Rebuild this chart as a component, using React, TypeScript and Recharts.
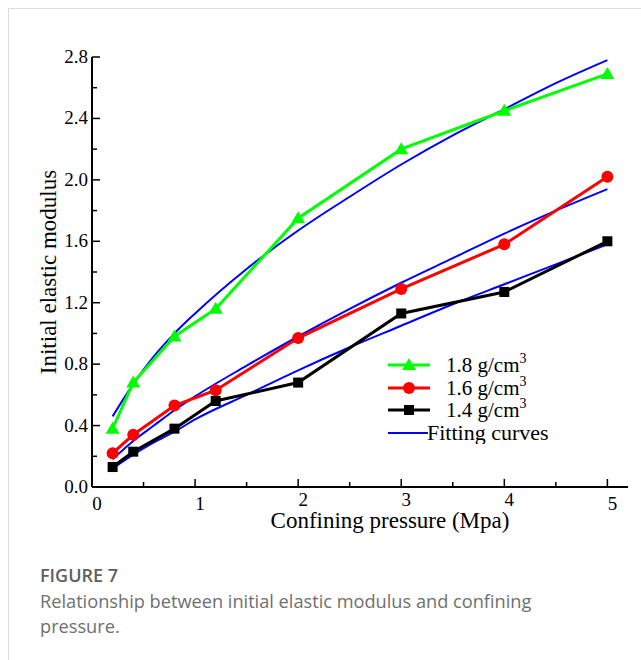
import { LineChart, Line, XAxis, YAxis, Legend } from 'recharts';

// measured points (confining pressure in MPa)
const pressure = [0.2, 0.4, 0.8, 1.2, 2, 3, 4, 5];
const modulus18 = [0.38, 0.68, 0.98, 1.16, 1.75, 2.2, 2.45, 2.69];
const modulus16 = [0.22, 0.34, 0.53, 0.63, 0.97, 1.29, 1.58, 2.02];
const modulus14 = [0.13, 0.23, 0.38, 0.56, 0.68, 1.13, 1.27, 1.6];

// fitting curves
const fitPressure = [0.2, 0.4, 0.6, 0.8, 1, 1.5, 2, 2.5, 3, 3.5, 4, 4.5, 5];
const fit18 = [0.46, 0.67, 0.85, 1.0, 1.13, 1.42, 1.67, 1.89, 2.1, 2.29, 2.46, 2.63, 2.78];
const fit16 = [0.18, 0.3, 0.4, 0.5, 0.59, 0.79, 0.98, 1.16, 1.33, 1.49, 1.65, 1.8, 1.94];
const fit14 = [0.12, 0.21, 0.29, 0.36, 0.44, 0.6, 0.76, 0.91, 1.05, 1.19, 1.32, 1.45, 1.58];

const xTicks = [0, 0.5, 1, 1.5, 2, 2.5, 3, 3.5, 4, 4.5, 5];
const yTicks = [0, 0.2, 0.4, 0.6, 0.8, 1.0, 1.2, 1.4, 1.6, 1.8, 2.0, 2.2, 2.4, 2.6, 2.8];

const legendLabels = ['1.8', '1.6', '1.4'];

const toPoints = (xs: number[], ys: number[]) => xs.map((x, i) => ({ x, y: ys[i] }));

const serif = '"Liberation Serif", "Times New Roman", serif';

const XTick = (props: any) => {
  const { x, y, payload } = props;
  const v = payload.value;
  const major = Number.isInteger(v);
  const raised = v === 2 || v === 3 || v === 4;
  return (
    <g>
      <line x1={x} x2={x} y1={y} y2={y - (major ? 8 : 5)} stroke="#000" strokeWidth={1.5} />
      {major && (
        <text x={x + 5} y={y + (raised ? 19 : 23)} textAnchor="middle" fontFamily={serif} fontSize={19} fill="#000">
          {v}
        </text>
      )}
    </g>
  );
};

const YTick = (props: any) => {
  const { x, y, payload } = props;
  const v = payload.value;
  const major = Math.round(v * 10) % 4 === 0;
  return (
    <g>
      <line x1={x} x2={x + (major ? 8 : 5)} y1={y} y2={y} stroke="#000" strokeWidth={1.5} />
      {major && (
        <text x={x - 4} y={y + 6} textAnchor="end" fontFamily={serif} fontSize={19} fill="#000">
          {v.toFixed(1)}
        </text>
      )}
    </g>
  );
};

const Triangle = (props: any) => {
  const { cx, cy } = props;
  if (cx == null || cy == null) return null;
  return <polygon points={`${cx},${cy - 7} ${cx + 7},${cy + 5} ${cx - 7},${cy + 5}`} fill="#00ff00" />;
};

const Circle = (props: any) => {
  const { cx, cy } = props;
  if (cx == null || cy == null) return null;
  return <circle cx={cx} cy={cy} r={6} fill="#ff0000" />;
};

const Square = (props: any) => {
  const { cx, cy } = props;
  if (cx == null || cy == null) return null;
  return <rect x={cx - 5} y={cy - 5} width={10} height={10} fill="#000" />;
};

const LegendBox = () => {
  const colors = ['#00ff00', '#ff0000', '#000000'];
  const rowY = [13, 36, 58];
  return (
    <svg width={210} height={92}>
      {legendLabels.map((label, i) => (
        <g key={label}>
          <line x1={8} x2={50} y1={rowY[i]} y2={rowY[i]} stroke={colors[i]} strokeWidth={3} />
          {i === 0 && <Triangle cx={29} cy={rowY[i]} />}
          {i === 1 && <Circle cx={29} cy={rowY[i]} />}
          {i === 2 && <Square cx={29} cy={rowY[i]} />}
          <text x={66} y={rowY[i] + 7} fontFamily={serif} fontSize={21} fill="#000">
            {label} g/cm
            <tspan dy={-9} fontSize={14}>3</tspan>
          </text>
        </g>
      ))}
      <line x1={8} x2={48} y1={81} y2={81} stroke="#0000ff" strokeWidth={2} />
      <text x={47} y={88} fontFamily={serif} fontSize={22} fill="#000">Fitting curves</text>
    </svg>
  );
};

const App = () => {
  return (
    <div style={{ position: 'absolute', left: 0, top: 0, width: 641, height: 660, background: '#fff' }}>
      <div
        style={{
          position: 'absolute',
          left: 8,
          top: 8,
          width: 640,
          height: 660,
          borderLeft: '1px solid #dcdcdc',
          borderTop: '1px solid #dcdcdc',
        }}
      />
      <div style={{ position: 'absolute', left: 0, top: 0 }}>
        <LineChart width={641} height={545} margin={{ top: 57, right: 13, bottom: 28, left: 32 }}>
          <XAxis
            type="number"
            dataKey="x"
            domain={[0, 5.2]}
            ticks={xTicks}
            tick={<XTick />}
            tickLine={false}
            tickSize={0}
            tickMargin={0}
            interval={0}
            axisLine={{ stroke: '#000', strokeWidth: 2 }}
            allowDuplicatedCategory={false}
            label={(p: any) => {
              const vb = p.viewBox;
              return (
                <text x={vb.x + vb.width / 2 + 30} y={vb.y + 41} textAnchor="middle" fontFamily={serif} fontSize={23} fill="#000">
                  Confining pressure (Mpa)
                </text>
              );
            }}
          />
          <YAxis
            type="number"
            dataKey="y"
            domain={[0, 2.8]}
            ticks={yTicks}
            tick={<YTick />}
            tickLine={false}
            tickSize={0}
            tickMargin={0}
            interval={0}
            axisLine={{ stroke: '#000', strokeWidth: 2 }}
            label={() => (
              <text
                x={48}
                y={272}
                transform="rotate(-90 48 272)"
                textAnchor="middle"
                dominantBaseline="central"
                fontFamily={serif}
                fontSize={23}
                fill="#000"
              >
                Initial elastic modulus
              </text>
            )}
          />
          <Legend
            layout="vertical"
            align="center"
            verticalAlign="middle"
            content={<LegendBox />}
            wrapperStyle={{ left: 380, top: 352, width: 210, height: 92 }}
          />
          <Line data={toPoints(fitPressure, fit18)} dataKey="y" type="monotone" stroke="#0000ff" strokeWidth={2} dot={false} isAnimationActive={false} legendType="none" />
          <Line data={toPoints(fitPressure, fit16)} dataKey="y" type="monotone" stroke="#0000ff" strokeWidth={2} dot={false} isAnimationActive={false} legendType="none" />
          <Line data={toPoints(fitPressure, fit14)} dataKey="y" type="monotone" stroke="#0000ff" strokeWidth={2} dot={false} isAnimationActive={false} legendType="none" />
          <Line data={toPoints(pressure, modulus18)} dataKey="y" stroke="#00ff00" strokeWidth={3} dot={<Triangle />} isAnimationActive={false} />
          <Line data={toPoints(pressure, modulus16)} dataKey="y" stroke="#ff0000" strokeWidth={3} dot={<Circle />} isAnimationActive={false} />
          <Line data={toPoints(pressure, modulus14)} dataKey="y" stroke="#000000" strokeWidth={3} dot={<Square />} isAnimationActive={false} />
        </LineChart>
      </div>
      <div
        style={{
          position: 'absolute',
          left: 40,
          top: 562,
          width: 530,
          fontFamily: '"Open Sans", sans-serif',
          color: '#6f6f6f',
        }}
      >
        <div style={{ fontSize: 18, fontWeight: 600, color: '#5f5f5f', lineHeight: '27px' }}>FIGURE 7</div>
        <div style={{ fontSize: 18.2, lineHeight: '25px' }}>
          Relationship between initial elastic modulus and confining pressure.
        </div>
      </div>
    </div>
  );
};

export default App;
